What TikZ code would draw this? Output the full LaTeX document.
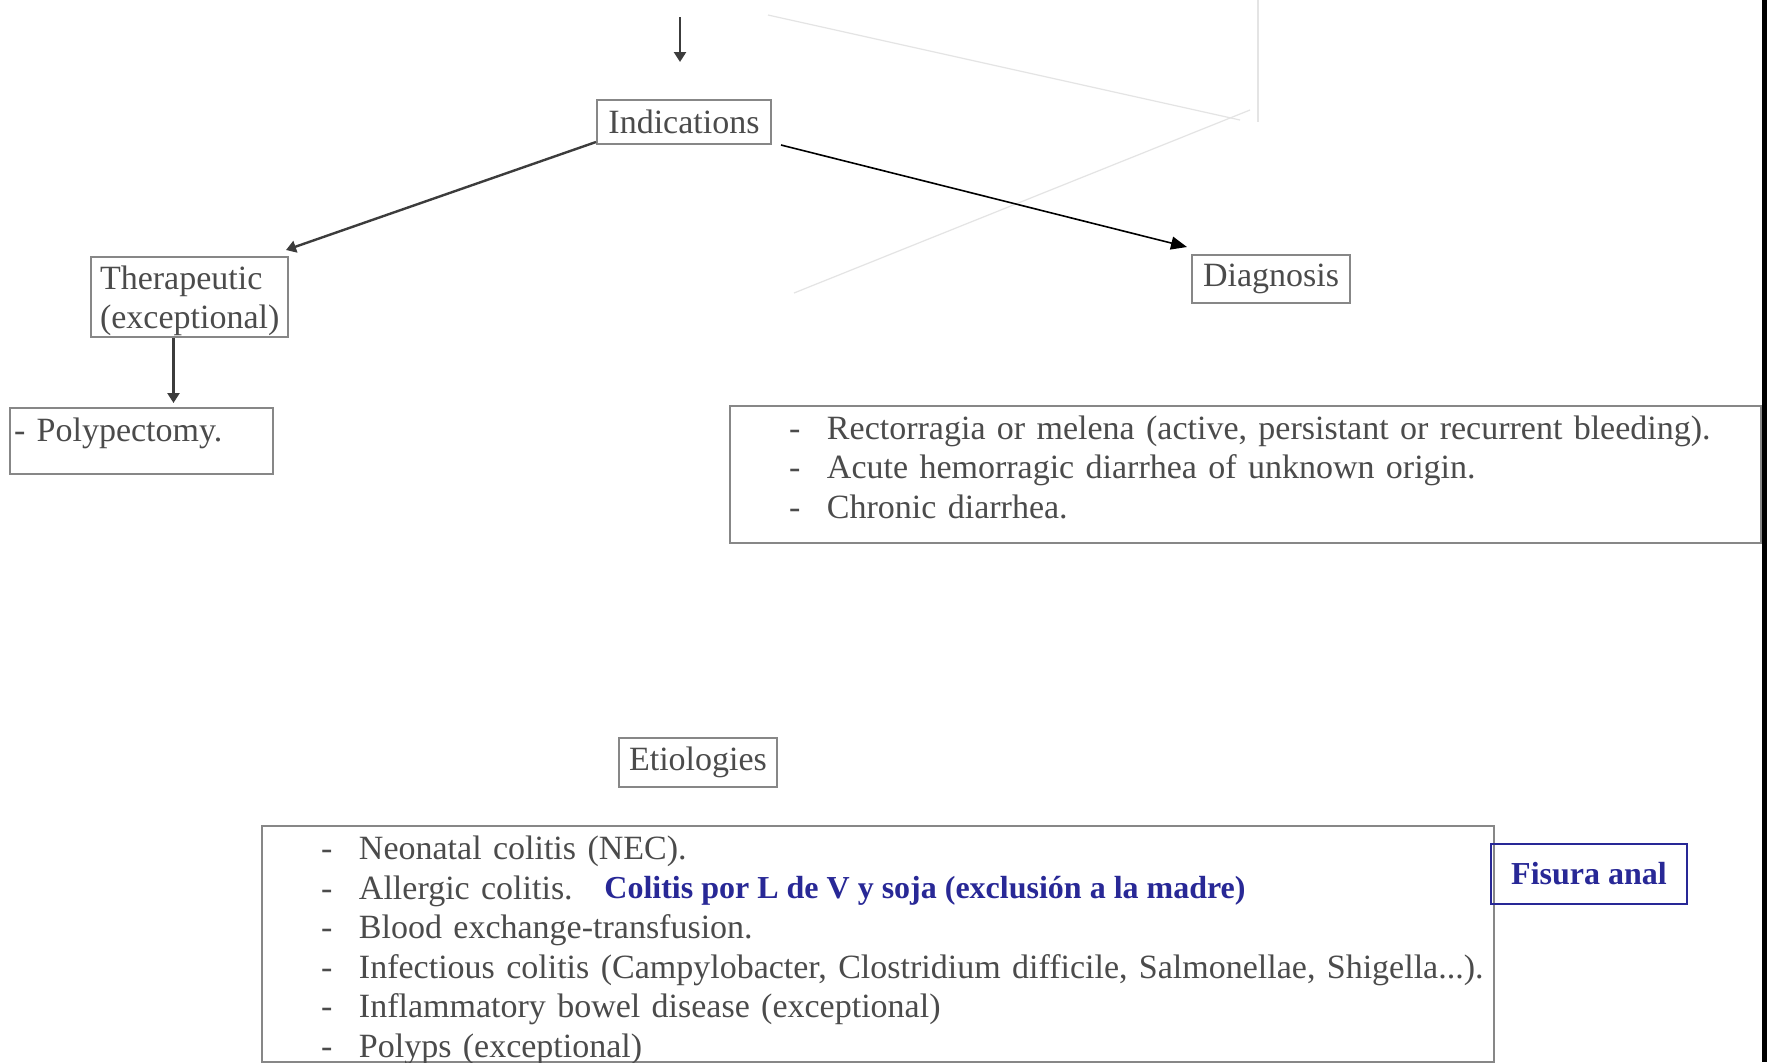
\documentclass[tikz,border=0pt]{standalone}
\usepackage{fontspec}
\setmainfont{Liberation Serif}
\usetikzlibrary{arrows.meta}
\definecolor{txtgray}{RGB}{75,75,75}
\definecolor{boxgray}{RGB}{135,135,135}
\definecolor{arrgray}{RGB}{60,60,60}
\definecolor{navy}{RGB}{40,40,150}
\definecolor{ghost}{RGB}{228,228,228}
\newcommand{\itemline}[1]{\mbox{\makebox[19pt][l]{-}#1}}
\begin{document}
\begin{tikzpicture}[x=0.5pt,y=-0.5pt,
  gfont/.style={font=\fontsize{17}{19.75}\selectfont},
  gbox/.style={draw=boxgray,line width=1pt,text=txtgray,gfont,inner sep=0pt},
  garrow/.style={draw=arrgray,line width=1.2pt,-{Triangle[length=5pt,width=6pt]}},
  barrow/.style={draw=black,line width=0.8pt,-{Triangle[length=8pt,width=6.5pt]}},
  ghostline/.style={draw=ghost,line width=0.6pt},
  bluetext/.style={text=navy,font=\bfseries\fontsize{16}{19}\selectfont},
]
\useasboundingbox (0,0) rectangle (1767,1062);
\fill[white] (0,0) rectangle (1767,1062);

% faint ghost lines
\draw[ghostline] (768,15) -- (1240,120);
\draw[ghostline] (794,293) -- (1250,110);
\draw[ghostline] (1258,0) -- (1258,122);

% boxes
\node[gbox,minimum width=87pt,minimum height=22pt] (ind) at (684,122) {Indications};
\node[gbox,anchor=north west,text width=89.5pt,inner xsep=4.5pt,align=left,
      text height=16pt,text depth=24pt] (ther) at (90,256) {Therapeutic\\(exceptional)};
\node[gbox,anchor=north west,text width=127.5pt,inner xsep=2pt,align=left,
      text height=16.5pt,text depth=16.5pt] (poly) at (9,407) {- Polypectomy.};
\node[gbox,minimum width=79pt,minimum height=24pt] (diag) at (1271,279) {Diagnosis};
\node[gbox,anchor=north west,text width=456.5pt,inner xsep=29.5pt,align=left,
      text height=16.5pt,text depth=52pt] (dlist) at (729,405)
 {\itemline{Rectorragia or melena (active, persistant or recurrent bleeding).}\\
  \itemline{Acute hemorragic diarrhea of unknown origin.}\\
  \itemline{Chronic diarrhea.}};
\node[gbox,minimum width=79pt,minimum height=24.5pt] (eti) at (698,762.5) {Etiologies};
\node[gbox,anchor=north west,text width=557pt,inner xsep=29.5pt,align=left,
      text height=16.75pt,text depth=101.25pt] (elist) at (261,825)
 {\itemline{Neonatal colitis (NEC).}\\
  \itemline{Allergic colitis.}\\
  \itemline{Blood exchange-transfusion.}\\
  \itemline{Infectious colitis (Campylobacter, Clostridium difficile, Salmonellae, Shigella...).}\\
  \itemline{Inflammatory bowel disease (exceptional)}\\
  \itemline{Polyps (exceptional)}};
\node[bluetext,anchor=base west,inner sep=0pt] (allergy) at (604,898)
 {Colitis por L de V y soja (exclusión a la madre)};
\node[draw=navy,line width=1pt,bluetext,minimum width=98pt,minimum height=30pt,inner sep=0pt]
 (fisura) at (1589,874) {Fisura anal};

% connectors
\coordinate (topstart) at (680,17);
\coordinate (topend) at (680,62);
\draw[garrow] (topstart) -- (topend);
\draw[garrow] ([yshift=1.5pt]ind.south west) -- ([xshift=-1.5pt,yshift=3pt]ther.north east);
\draw[barrow] ([xshift=4.5pt]ind.south east) -- ([xshift=-2pt,yshift=3.5pt]diag.north west);
\draw[garrow,shorten >=2pt] ([xshift=-8pt]ther.south) -- ([xshift=-8pt]ther.south |- poly.north);

% black bar at right edge
\fill[black] (1762,0) rectangle (1767,1062);
\end{tikzpicture}
\end{document}
